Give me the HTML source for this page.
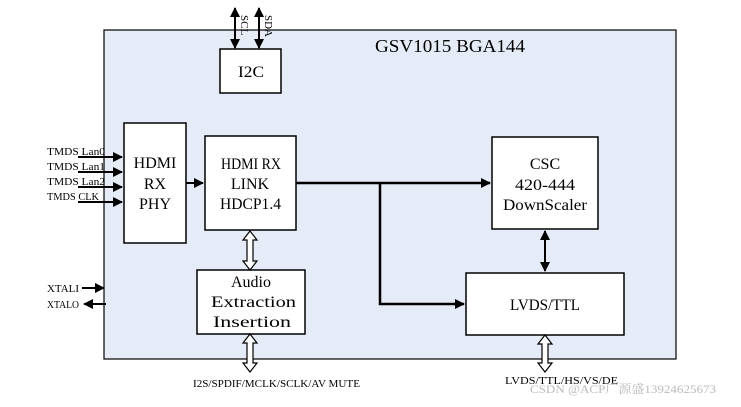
<!DOCTYPE html>
<html><head><style>
body{margin:0;background:#fff}
svg text{font-family:"Liberation Serif","Noto Serif CJK SC",serif}
</style></head><body>
<svg width="741" height="402" viewBox="0 0 741 402" xmlns="http://www.w3.org/2000/svg">
<defs>
<marker id="a" markerWidth="10" markerHeight="10" refX="9" refY="5" orient="auto-start-reverse" markerUnits="userSpaceOnUse"><path d="M0,0 L10,5 L0,10 z" fill="#000"/></marker>
</defs>
<rect x="104" y="30" width="572" height="329" fill="#e5ecf7" stroke="#000" stroke-width="1.2"/>
<text x="375" y="52" font-size="18" textLength="150" lengthAdjust="spacingAndGlyphs">GSV1015 BGA144</text>
<!-- I2C -->
<rect x="220" y="49" width="61" height="44" fill="#fff" stroke="#000" stroke-width="1.5"/>
<text x="238" y="77" font-size="16" textLength="26" lengthAdjust="spacingAndGlyphs">I2C</text>
<line x1="235" y1="8" x2="235" y2="48" stroke="#000" stroke-width="2" marker-start="url(#a)" marker-end="url(#a)"/>
<line x1="259" y1="8" x2="259" y2="48" stroke="#000" stroke-width="2" marker-start="url(#a)" marker-end="url(#a)"/>
<text transform="translate(241,15) rotate(90)" font-size="11">SCL</text>
<text transform="translate(265,15) rotate(90)" font-size="11">SDA</text>
<!-- PHY -->
<rect x="124" y="123" width="62" height="120" fill="#fff" stroke="#000" stroke-width="1.5"/>
<text font-size="16" text-anchor="middle"><tspan x="155" y="168">HDMI</tspan><tspan x="155" y="189">RX</tspan><tspan x="155" y="209">PHY</tspan></text>
<g font-size="11">
<text x="47" y="155" textLength="58" lengthAdjust="spacingAndGlyphs">TMDS Lan0</text><text x="47" y="170" textLength="58" lengthAdjust="spacingAndGlyphs">TMDS Lan1</text>
<text x="47" y="185" textLength="58" lengthAdjust="spacingAndGlyphs">TMDS Lan2</text><text x="47" y="200" textLength="52" lengthAdjust="spacingAndGlyphs">TMDS CLK</text>
</g>
<g stroke="#000" stroke-width="2">
<line x1="78" y1="157" x2="122" y2="157" marker-end="url(#a)"/>
<line x1="78" y1="172" x2="122" y2="172" marker-end="url(#a)"/>
<line x1="78" y1="187" x2="122" y2="187" marker-end="url(#a)"/>
<line x1="78" y1="202" x2="122" y2="202" marker-end="url(#a)"/>
<line x1="186" y1="183" x2="203" y2="183" marker-end="url(#a)"/>
</g>
<!-- LINK -->
<rect x="205" y="136" width="91" height="94" fill="#fff" stroke="#000" stroke-width="1.5"/>
<g font-size="16">
<text x="221" y="169" textLength="60" lengthAdjust="spacingAndGlyphs">HDMI RX</text>
<text x="250" y="189" text-anchor="middle">LINK</text>
<text x="220" y="209" textLength="61" lengthAdjust="spacingAndGlyphs">HDCP1.4</text>
</g>
<!-- CSC -->
<rect x="492" y="137" width="106" height="92" fill="#fff" stroke="#000" stroke-width="1.5"/>
<g font-size="16">
<text x="545" y="169" text-anchor="middle">CSC</text>
<text x="515" y="190" textLength="60" lengthAdjust="spacingAndGlyphs">420-444</text>
<text x="503" y="210" textLength="84" lengthAdjust="spacingAndGlyphs">DownScaler</text>
</g>
<!-- LVDS -->
<rect x="466" y="273" width="158" height="62" fill="#fff" stroke="#000" stroke-width="1.5"/>
<text x="510" y="310" font-size="16" textLength="70" lengthAdjust="spacingAndGlyphs">LVDS/TTL</text>
<!-- Audio -->
<rect x="197" y="270" width="108" height="64" fill="#fff" stroke="#000" stroke-width="1.5"/>
<g font-size="16">
<text x="251" y="287" text-anchor="middle">Audio</text>
<text x="211" y="307" textLength="85" lengthAdjust="spacingAndGlyphs">Extraction</text>
<text x="213" y="327" textLength="78" lengthAdjust="spacingAndGlyphs">Insertion</text>
</g>
<!-- connectors -->
<g stroke="#000" stroke-width="2.5" fill="none">
<line x1="296" y1="183" x2="490" y2="183" marker-end="url(#a)"/>
<polyline points="380,183 380,304 464,304" marker-end="url(#a)"/>
</g>
<line x1="545" y1="231" x2="545" y2="271" stroke="#000" stroke-width="2" marker-start="url(#a)" marker-end="url(#a)"/>
<!-- hollow double arrows -->
<g fill="#fff" stroke="#000" stroke-width="1.2">
<path d="M250,231 L257,240 L253,240 L253,261 L257,261 L250,270 L243,261 L247,261 L247,240 L243,240 Z"/>
<path d="M250,334 L257,343 L253,343 L253,363 L257,363 L250,372 L243,363 L247,363 L247,343 L243,343 Z"/>
<path d="M545,335 L552,344 L548,344 L548,363 L552,363 L545,372 L538,363 L542,363 L542,344 L538,344 Z"/>
</g>
<text x="193" y="387" font-size="11" textLength="167" lengthAdjust="spacingAndGlyphs">I2S/SPDIF/MCLK/SCLK/AV MUTE</text>
<text x="505" y="384" font-size="11" textLength="113" lengthAdjust="spacingAndGlyphs">LVDS/TTL/HS/VS/DE</text>
<!-- XTAL -->
<text x="47" y="292" font-size="11" textLength="32" lengthAdjust="spacingAndGlyphs">XTALI</text>
<text x="47" y="308" font-size="11" textLength="32" lengthAdjust="spacingAndGlyphs">XTALO</text>
<line x1="82" y1="288" x2="104" y2="288" stroke="#000" stroke-width="2" marker-end="url(#a)"/>
<line x1="106" y1="304" x2="84" y2="304" stroke="#000" stroke-width="2" marker-end="url(#a)"/>
<text x="530" y="393" font-size="12" fill="#bbb" font-family="Liberation Sans,Noto Sans CJK SC,sans-serif" textLength="186" lengthAdjust="spacingAndGlyphs">CSDN @ACP广源盛13924625673</text>
</svg>
</body></html>
